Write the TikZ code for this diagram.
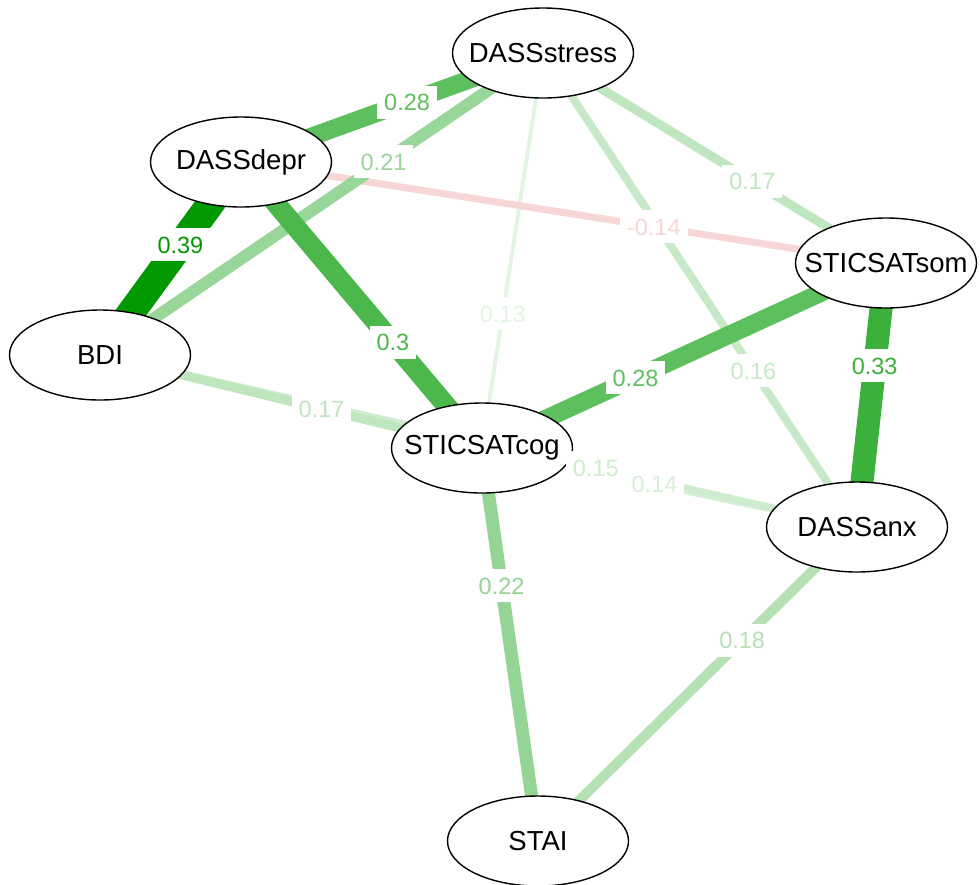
\documentclass[tikz,border=0pt]{standalone}
\usepackage{fontspec}
\setmainfont{Liberation Sans}
\usetikzlibrary{shapes.geometric}
\pgfdeclarelayer{background}
\pgfsetlayers{background,main}
\definecolor{qpos}{HTML}{009900}
\definecolor{qneg}{HTML}{CC0000}

\begin{document}
\begin{tikzpicture}[x=1pt,y=-1pt]
        \useasboundingbox (0,0) rectangle (980,884);

        \begin{scope}[every node/.style={ellipse,draw,fill=white,line width=1.4pt,
            minimum width=181pt,minimum height=90pt,inner xsep=-20pt,inner ysep=0pt,
            font=\fontsize{27.5}{30}\selectfont}]
          \node (stress) at (543,53)  {DASSstress};
          \node (depr)   at (241,162) {DASSdepr};
          \node (bdi)    at (100,355) {BDI};
          \node (cog)    at (482,448) {STICSATcog};
          \node (som)    at (886,263) {STICSATsom};
          \node (anx)    at (857,527) {DASSanx};
          \node (stai)   at (538,841) {STAI};
        \end{scope}

        \begin{pgfonlayer}{background}
          \begin{scope}[every edge/.style={draw,line cap=butt}]
            \path (stress.center) edge[line width=4pt,draw=qpos!11]  (cog.center);
            \path (cog.center)    edge[line width=7pt,draw=qpos!16]  (anx.center);
            \path (depr.center)   edge[line width=7pt,draw=qneg!16]  (som.center);
            \path (bdi.center)    edge[line width=7pt,draw=qpos!19]  (anx.center);
            \path (stress.center) edge[line width=8pt,draw=qpos!22]  (anx.center);
            \path (stress.center) edge[line width=9pt,draw=qpos!25]  (som.center);
            \path (bdi.center)    edge[line width=9pt,draw=qpos!25]  (cog.center);
            \path (anx.center)    edge[line width=10pt,draw=qpos!29] (stai.center);
            \path (bdi.center)    edge[line width=12pt,draw=qpos!40] (stress.center);
            \path (cog.center)    edge[line width=13pt,draw=qpos!42] (stai.center);
            \path (depr.center)   edge[line width=18pt,draw=qpos!63] (stress.center);
            \path (cog.center)    edge[line width=18pt,draw=qpos!63] (som.center);
            \path (depr.center)   edge[line width=20pt,draw=qpos!70] (cog.center);
            \path (som.center)    edge[line width=23pt,draw=qpos!77] (anx.center);
            \path (bdi.center)    edge[line width=28pt,draw=qpos]    (depr.center);
          \end{scope}
        \end{pgfonlayer}

        \begin{scope}[every node/.style={fill=white,inner xsep=7pt,inner ysep=8pt,
            text height=17pt,text depth=0pt,font=\fontsize{23.5}{26}\selectfont}]
          \path (stress.center) -- node[pos=.66,text=qpos!11] {0.13} (cog.center);
          \path (cog.center)    -- node[pos=.46,text=qpos!16] {0.14} (anx.center);
          \path (depr.center)   -- node[pos=.64,text=qneg!16] {-0.14} (som.center);
          \path (bdi.center)    -- node[pos=.655,text=qpos!19] {0.15} (anx.center);
          \path (stress.center) -- node[pos=.67,text=qpos!22] {0.16} (anx.center);
          \path (stress.center) -- node[pos=.61,text=qpos!25] {0.17} (som.center);
          \path (bdi.center)    -- node[pos=.58,text=qpos!25] {0.17} (cog.center);
          \path (anx.center)    -- node[pos=.36,text=qpos!29] {0.18} (stai.center);
          \path (bdi.center)    -- node[pos=.64,text=qpos!40] {0.21} (stress.center);
          \path (cog.center)    -- node[pos=.35,text=qpos!42] {0.22} (stai.center);
          \path (depr.center)   -- node[pos=.55,text=qpos!63] {0.28} (stress.center);
          \path (cog.center)    -- node[pos=.38,text=qpos!63] {0.28} (som.center);
          \path (depr.center)   -- node[pos=.63,text=qpos!70] {0.3} (cog.center);
          \path (som.center)    -- node[pos=.39,text=qpos!77] {0.33} (anx.center);
          \path (bdi.center)    -- node[pos=.57,text=qpos]    {0.39} (depr.center);
        \end{scope}

      \end{tikzpicture}
\end{document}
